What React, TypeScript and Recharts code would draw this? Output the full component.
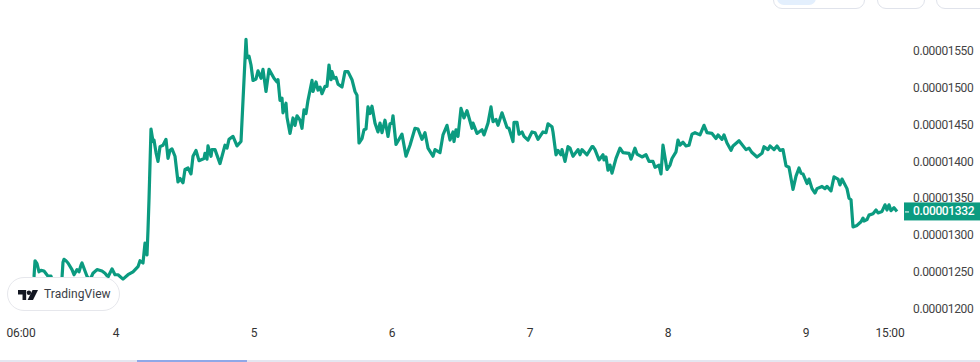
import React from 'react';
import { LineChart, Line, XAxis, YAxis, ReferenceLine } from 'recharts';

// time is counted in bars from the start of day 4 (138 bars to a day)
const bars = [
  -83, -82, -81, -79, -77, -75, -72, -68, -65, -63, -56, -54, -53, -52, -50, -48, -44, -42, -39, -37,
  -35, -34, -31, -29, -26, -23, -19, -14, -11, -8, -4, -1, 2, 7, 12, 17, 22, 24, 27, 29,
  31, 32, 33, 35, 37, 38, 40, 42, 44, 47, 50, 52, 54, 56, 59, 62, 64, 67, 69, 72,
  75, 77, 80, 83, 88, 89, 91, 92, 95, 96, 99, 104, 109, 111, 113, 117, 121, 125, 130, 131,
  133, 135, 137, 140, 142, 145, 147, 150, 153, 158, 161, 162, 164, 166, 167, 170, 171, 174, 177, 179,
  181, 184, 186, 188, 190, 192, 196, 197, 200, 202, 204, 206, 209, 211, 213, 215, 216, 218, 220, 222,
  226, 229, 232, 236, 239, 241, 243, 246, 248, 250, 252, 254, 256, 259, 262, 264, 266, 269, 272, 274,
  276, 277, 280, 286, 290, 294, 299, 302, 306, 309, 312, 317, 319, 324, 327, 331, 334, 337, 338, 340,
  342, 345, 348, 351, 356, 357, 361, 366, 368, 372, 375, 377, 380, 382, 386, 391, 393, 397, 398, 401,
  403, 406, 408, 412, 416, 419, 422, 427, 430, 432, 436, 437, 440, 442, 445, 446, 449, 452, 454, 457,
  462, 464, 466, 471, 476, 477, 479, 483, 487, 488, 490, 492, 494, 496, 500, 504, 507, 513, 515, 519,
  521, 526, 530, 533, 537, 539, 543, 545, 547, 551, 554, 556, 560, 562, 564, 567, 570, 573, 576, 579,
  584, 588, 591, 596, 600, 602, 606, 608, 611, 615, 617, 623, 630, 633, 636, 641, 646, 648, 652, 654,
  658, 661, 664, 667, 670, 673, 677, 680, 683, 685, 687, 691, 693, 696, 699, 701, 706, 709, 711, 715,
  718, 722, 724, 726, 731, 733, 735, 737, 741, 745, 747, 748, 751, 753, 757, 760, 762, 766, 769, 771,
  773, 775, 778, 781,
];

// price in units of 0.00000001
const prices = [
  1232, 1243, 1265, 1261, 1250, 1252, 1251, 1244, 1244, 1235, 1235, 1242, 1263, 1267, 1265, 1262, 1253, 1246, 1253, 1250,
  1259, 1262, 1251, 1244, 1239, 1248, 1253, 1251, 1248, 1243, 1254, 1246, 1246, 1240, 1246, 1250, 1257, 1265, 1262, 1289,
  1273, 1307, 1348, 1444, 1427, 1429, 1412, 1400, 1420, 1422, 1430, 1404, 1415, 1417, 1407, 1372, 1377, 1371, 1389, 1391,
  1383, 1407, 1415, 1401, 1404, 1411, 1403, 1421, 1407, 1416, 1416, 1397, 1422, 1418, 1430, 1434, 1421, 1427, 1566, 1541,
  1543, 1531, 1510, 1512, 1523, 1513, 1525, 1495, 1525, 1513, 1508, 1511, 1483, 1486, 1466, 1479, 1460, 1438, 1459, 1449,
  1462, 1456, 1445, 1470, 1465, 1483, 1510, 1495, 1508, 1497, 1501, 1492, 1502, 1502, 1531, 1511, 1522, 1513, 1514, 1505,
  1501, 1522, 1522, 1511, 1495, 1490, 1425, 1431, 1443, 1444, 1474, 1465, 1475, 1452, 1440, 1452, 1439, 1456, 1434, 1451,
  1452, 1462, 1423, 1437, 1407, 1422, 1445, 1444, 1430, 1439, 1418, 1407, 1416, 1412, 1436, 1449, 1429, 1440, 1427, 1443,
  1434, 1472, 1459, 1469, 1445, 1452, 1438, 1443, 1436, 1452, 1474, 1454, 1457, 1449, 1466, 1446, 1445, 1427, 1453, 1453,
  1437, 1440, 1434, 1429, 1440, 1439, 1430, 1440, 1439, 1451, 1447, 1440, 1409, 1415, 1409, 1416, 1400, 1420, 1418, 1407,
  1416, 1409, 1416, 1409, 1420, 1420, 1416, 1402, 1409, 1402, 1406, 1388, 1395, 1384, 1404, 1418, 1412, 1411, 1403, 1418,
  1410, 1406, 1409, 1400, 1400, 1392, 1395, 1383, 1422, 1389, 1395, 1404, 1413, 1429, 1422, 1426, 1421, 1422, 1437, 1439,
  1436, 1449, 1439, 1438, 1431, 1436, 1430, 1436, 1425, 1415, 1421, 1428, 1416, 1418, 1412, 1406, 1411, 1420, 1416, 1421,
  1416, 1421, 1415, 1416, 1394, 1392, 1362, 1380, 1391, 1384, 1383, 1370, 1376, 1363, 1357, 1363, 1366, 1363, 1366, 1360,
  1379, 1376, 1368, 1376, 1363, 1350, 1348, 1311, 1313, 1318, 1323, 1319, 1321, 1327, 1329, 1334, 1330, 1332, 1341, 1334,
  1341, 1333, 1337, 1332,
];

const xTicks = [-104, 0, 138, 276, 414, 552, 690, 774];
const xTickLabels = ['06:00', '4', '5', '6', '7', '8', '9', '15:00'];
const yTicks = [1200, 1250, 1300, 1350, 1400, 1450, 1500, 1550];
const lastPrice = 1332;

const data = bars.map((bar, i) => ({ bar, price: prices[i] }));

const GREEN = '#0b9b80';
const FONT = 'Roboto, sans-serif';
const formatPrice = (v: number) => `0.0000${v}`;

const TimeTick = ({ x, y, payload }: any) => {
  const label = xTickLabels[xTicks.indexOf(payload.value)];
  // first label gets pushed in from the edge
  return (
    <text x={Math.max(x, 21)} y={y + 9} textAnchor="middle" fontSize={12} letterSpacing={-0.2} fontFamily={FONT} fill="#333">
      {label}
    </text>
  );
};

const PriceTag = ({ viewBox }: any) => {
  const left = viewBox.x + viewBox.width;
  const y = viewBox.y;
  return (
    <g>
      <rect x={left + 1} y={y - 9} width={76} height={18} fill={GREEN} />
      <rect x={left + 2} y={y} width={4} height={1} fill="#fff" />
      <text x={left + 10} y={y + 4} fontSize={12} letterSpacing={-0.35} fontWeight={500} fontFamily={FONT} fill="#fff">
        {formatPrice(lastPrice)}
      </text>
    </g>
  );
};

const Logo = () => (
  <svg width={20} height={10} viewBox="0 0 22 11" style={{ position: 'absolute', left: 18, top: 290 }}>
    <path d="M0 0h9v11H5V5H0z" fill="#131722" />
    <circle cx={12} cy={3} r={2.4} fill="#131722" />
    <path d="M16 0h6l-5.5 11h-6z" fill="#131722" />
  </svg>
);

const App = () => {
  return (
    <div style={{ position: 'absolute', left: 0, top: 0, width: 980, height: 362, overflow: 'hidden', background: '#fff' }}>
      <LineChart width={980} height={362} data={data} margin={{ top: 0, right: 0, bottom: 0, left: 0 }}>
        <XAxis
          dataKey="bar"
          type="number"
          domain={[-116, 787]}
          ticks={xTicks}
          interval={0}
          allowDataOverflow
          axisLine={false}
          tickLine={false}
          height={42}
          tick={<TimeTick />}
        />
        <YAxis
          orientation="right"
          type="number"
          domain={[1184.5, 1619.3]}
          ticks={yTicks}
          interval={0}
          allowDataOverflow
          width={77}
          axisLine={false}
          tickLine={false}
          tickMargin={4}
          tickFormatter={formatPrice}
          tick={{ fontSize: 12, letterSpacing: -0.35, fontFamily: FONT, fill: '#444', textAnchor: 'start' }}
        />
        <Line
          dataKey="price"
          type="linear"
          stroke={GREEN}
          strokeWidth={3.2}
          strokeLinejoin="round"
          dot={false}
          isAnimationActive={false}
        />
        <ReferenceLine y={lastPrice} stroke="none" label={<PriceTag />} />
      </LineChart>

      <div style={{ position: 'absolute', left: 773, top: -20, width: 90, height: 27, border: '1px solid #e0e3eb', borderRadius: 9 }} />
      <div style={{ position: 'absolute', left: 777, top: -10, width: 39, height: 15, background: '#e3effd', borderRadius: 7 }} />
      <div style={{ position: 'absolute', left: 877, top: -20, width: 46, height: 27, border: '1px solid #e0e3eb', borderRadius: 9 }} />
      <div style={{ position: 'absolute', left: 936, top: -20, width: 60, height: 27, border: '1px solid #e0e3eb', borderRadius: 9 }} />

      <div style={{ position: 'absolute', left: 7, top: 277, width: 111, height: 32, background: '#fff', border: '1px solid #e6e7ec', borderRadius: 17 }} />
      <Logo />
      <div style={{ position: 'absolute', left: 44, top: 286, fontFamily: FONT, fontSize: 12, letterSpacing: 0.05, lineHeight: '16px', color: '#3a3d45' }}>
        TradingView
      </div>

      <div style={{ position: 'absolute', left: 0, top: 360, width: 980, height: 2, background: '#e4e6f0' }} />
      <div style={{ position: 'absolute', left: 137, top: 360, width: 110, height: 2, background: '#8fa8e8' }} />
    </div>
  );
};

export default App;
